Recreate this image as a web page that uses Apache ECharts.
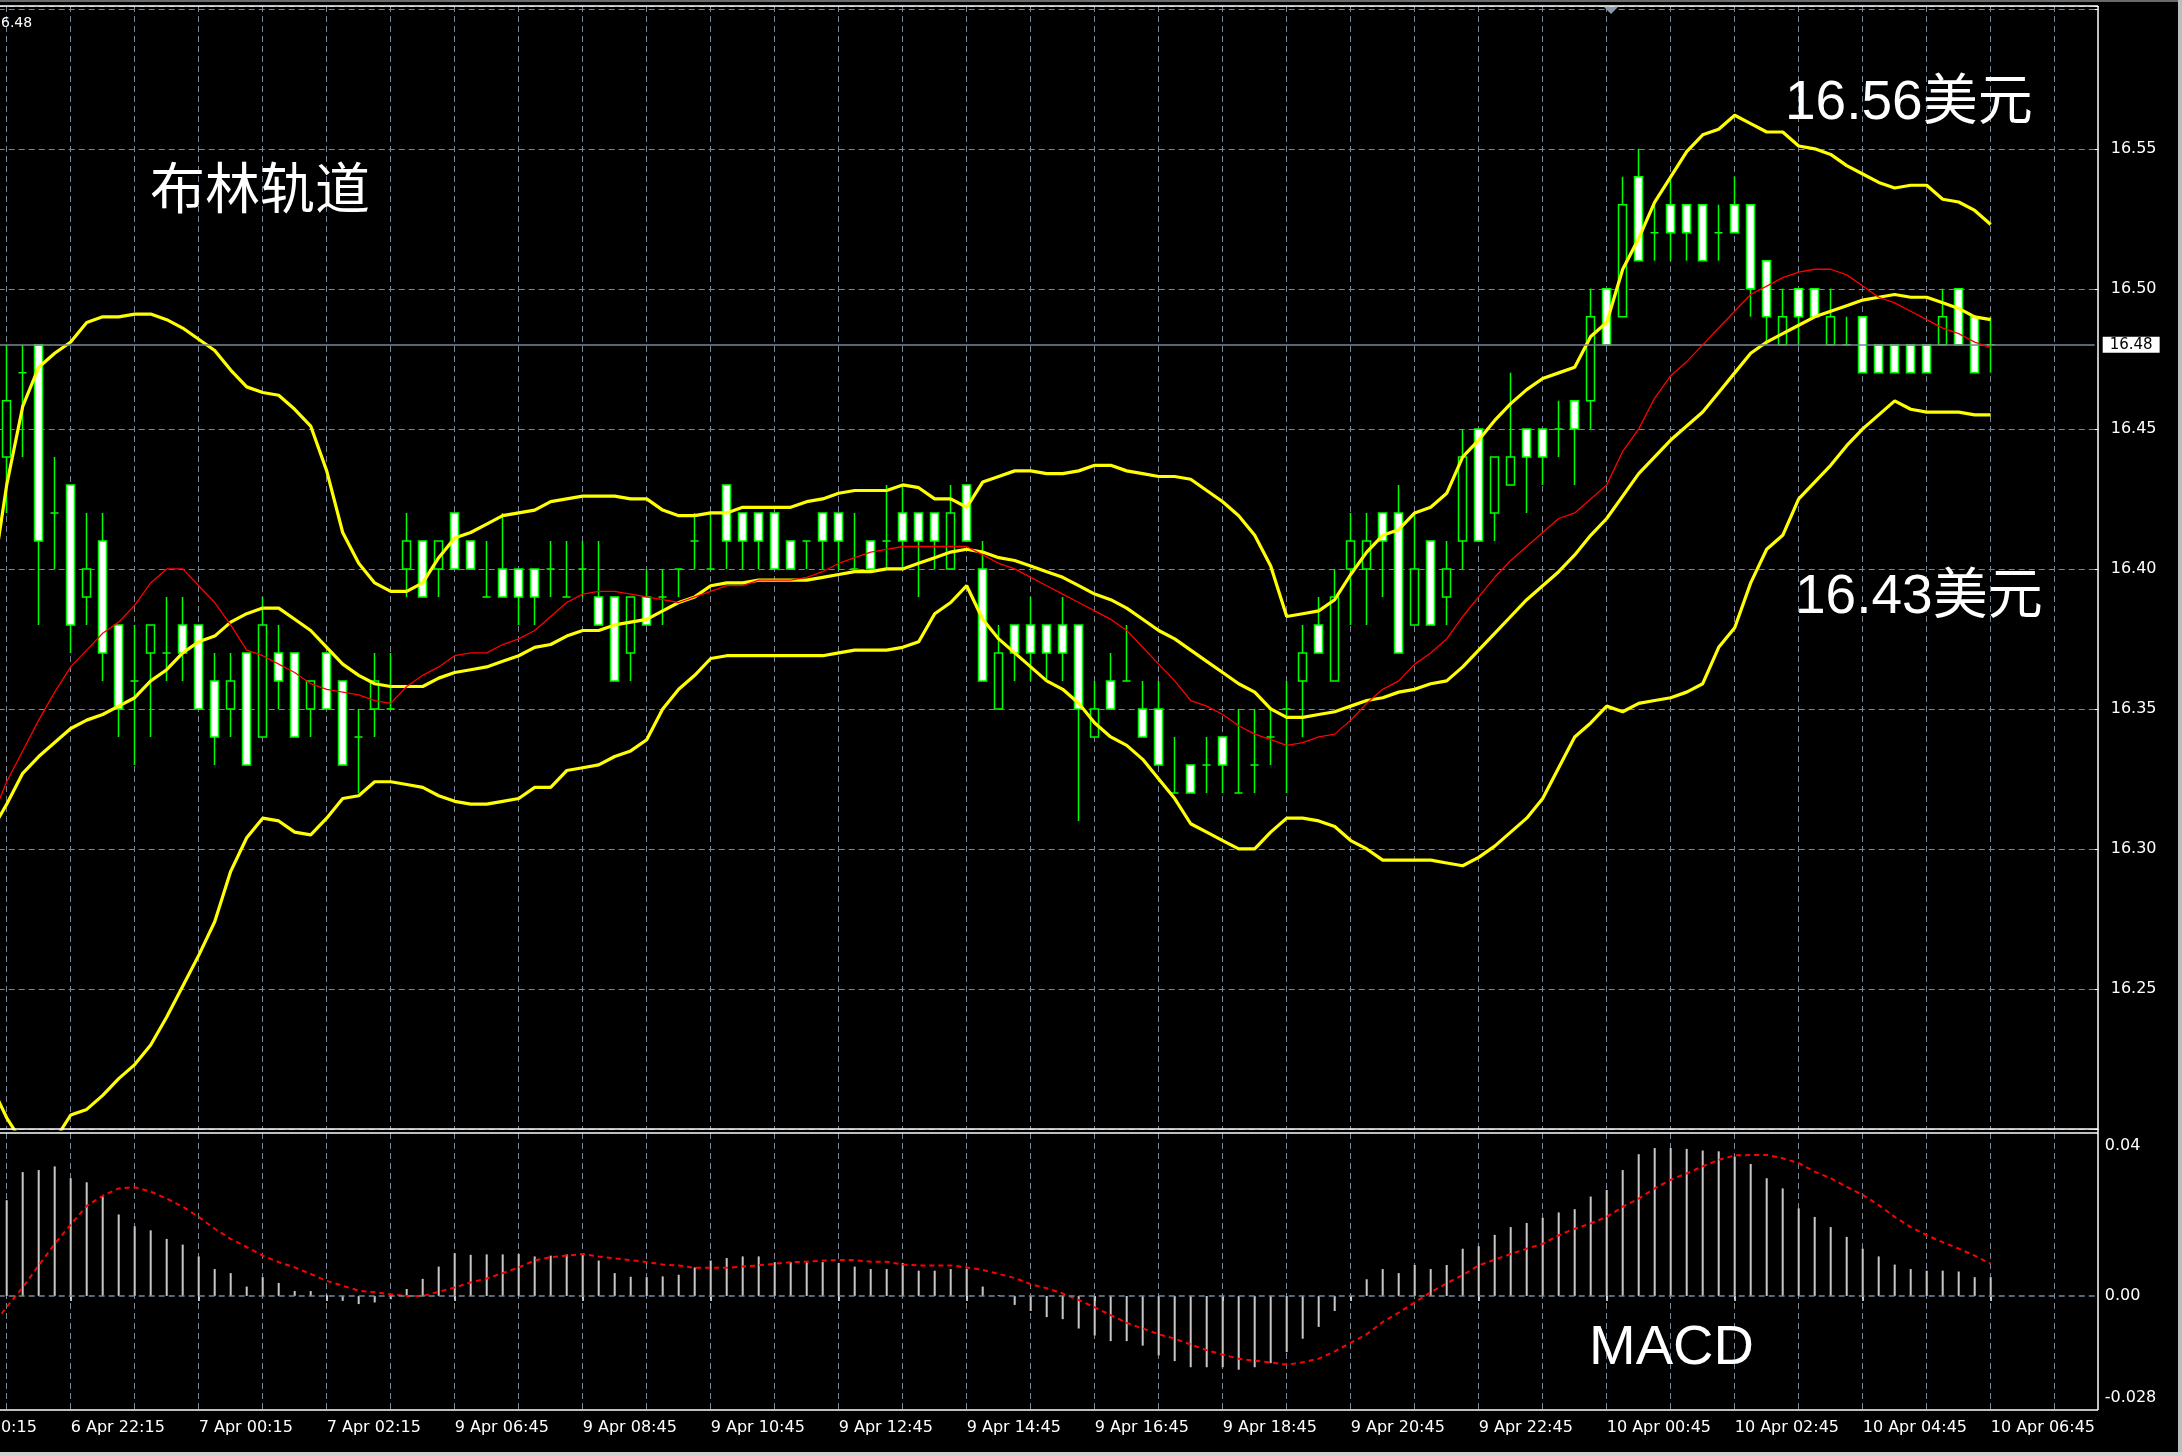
<!DOCTYPE html>
<html><head><meta charset="utf-8">
<script src="https://cdn.jsdelivr.net/npm/echarts@6/dist/echarts.min.js"></script>
<style>html,body{margin:0;padding:0;background:#000;}#c{width:2182px;height:1456px;}</style>
</head><body><div id="c"></div>
<script>
// ---------------- DATA ----------------
// Bars are 15-minute candles, j = -1 .. 124 (j=-1 only partly visible at the left edge)
const segStartA = {day: 6, hour: 20, minute: 0};   // category j = -5
const segStartB = {day: 9, hour: 6, minute: 45};   // category j = 28
const tickLabelsShown = ['6 Apr 20:15','6 Apr 22:15','7 Apr 00:15','7 Apr 02:15','9 Apr 06:45','9 Apr 08:45','9 Apr 10:45','9 Apr 12:45','9 Apr 14:45','9 Apr 16:45','9 Apr 18:45','9 Apr 20:45','9 Apr 22:45','10 Apr 00:45','10 Apr 02:45','10 Apr 04:45','10 Apr 06:45'];
const priceTicks = [16.25, 16.30, 16.35, 16.40, 16.45, 16.50, 16.55];
const macdTicks = [0.04, 0, -0.028];
const lastPrice = 16.48;

const openP = [null,
16.44,16.47,16.48,16.42,16.43,16.39,16.41,16.38,16.36,16.37,
16.37,16.38,16.38,16.36,16.35,16.37,16.34,16.37,16.37,16.35,
16.37,16.36,16.34,16.35,16.35,16.40,16.41,16.40,16.42,16.41,
16.39,16.40,16.40,16.40,16.40,16.39,16.40,16.39,16.39,16.37,
16.39,16.39,16.40,16.41,16.40,16.43,16.42,16.42,16.42,16.41,
16.41,16.42,16.42,16.40,16.41,16.41,16.42,16.42,16.42,16.40,
16.43,16.40,16.35,16.38,16.38,16.38,16.38,16.38,16.34,16.36,
16.36,16.35,16.35,16.32,16.33,16.33,16.34,16.32,16.33,16.34,
16.35,16.36,16.38,16.36,16.40,16.40,16.42,16.42,16.38,16.41,
16.39,16.41,16.45,16.42,16.43,16.45,16.45,16.45,16.46,16.46,
16.50,16.49,16.54,16.52,16.53,16.53,16.53,16.52,16.53,16.53,
16.51,16.48,16.50,16.50,16.48,16.48,16.49,16.48,16.48,16.48,
16.48,16.48,16.50,16.49,16.48];
const closeP = [null,
16.46,16.47,16.41,16.42,16.38,16.40,16.37,16.35,16.36,16.38,
16.37,16.37,16.35,16.34,16.36,16.33,16.38,16.36,16.34,16.36,
16.35,16.33,16.34,16.36,16.35,16.41,16.39,16.41,16.40,16.40,
16.39,16.39,16.39,16.39,16.40,16.39,16.40,16.38,16.36,16.39,
16.38,16.39,16.40,16.41,16.40,16.41,16.41,16.41,16.40,16.40,
16.41,16.41,16.41,16.40,16.40,16.41,16.41,16.41,16.41,16.42,
16.41,16.36,16.37,16.37,16.37,16.37,16.37,16.35,16.35,16.35,
16.36,16.34,16.33,16.32,16.32,16.33,16.33,16.32,16.33,16.34,
16.35,16.37,16.37,16.39,16.41,16.41,16.41,16.37,16.40,16.38,
16.40,16.44,16.41,16.44,16.44,16.44,16.44,16.45,16.45,16.49,
16.48,16.53,16.51,16.52,16.52,16.52,16.51,16.52,16.52,16.50,
16.49,16.49,16.49,16.49,16.49,16.48,16.47,16.47,16.47,16.47,
16.47,16.49,16.48,16.47,16.48];
const lowP = [null,
16.42,16.44,16.38,16.40,16.37,16.38,16.36,16.34,16.33,16.34,
16.36,16.36,16.35,16.33,16.34,16.33,16.34,16.35,16.34,16.34,
16.35,16.33,16.32,16.34,16.35,16.39,16.39,16.39,16.40,16.40,
16.39,16.39,16.38,16.38,16.39,16.39,16.39,16.38,16.36,16.36,
16.38,16.38,16.39,16.40,16.40,16.40,16.40,16.40,16.40,16.40,
16.40,16.40,16.40,16.40,16.40,16.40,16.40,16.39,16.40,16.40,
16.41,16.36,16.35,16.36,16.36,16.36,16.36,16.31,16.34,16.35,
16.36,16.34,16.33,16.32,16.32,16.32,16.32,16.32,16.32,16.33,
16.32,16.34,16.37,16.36,16.38,16.38,16.39,16.37,16.38,16.38,
16.38,16.40,16.41,16.41,16.43,16.42,16.43,16.44,16.43,16.45,
16.48,16.49,16.51,16.51,16.51,16.51,16.51,16.51,16.52,16.49,
16.48,16.48,16.48,16.49,16.48,16.48,16.47,16.47,16.47,16.47,
16.47,16.48,16.48,16.47,16.47];
const highP = [null,
16.48,16.48,16.48,16.44,16.43,16.42,16.42,16.38,16.38,16.38,
16.39,16.39,16.38,16.37,16.37,16.37,16.39,16.38,16.37,16.36,
16.37,16.36,16.35,16.37,16.37,16.42,16.41,16.41,16.42,16.41,
16.41,16.42,16.40,16.40,16.41,16.41,16.41,16.41,16.39,16.39,
16.40,16.40,16.40,16.42,16.42,16.43,16.42,16.42,16.42,16.41,
16.41,16.42,16.42,16.42,16.41,16.43,16.43,16.42,16.42,16.43,
16.43,16.41,16.38,16.38,16.39,16.38,16.39,16.38,16.36,16.37,
16.38,16.36,16.36,16.34,16.33,16.34,16.34,16.35,16.35,16.35,
16.36,16.38,16.39,16.40,16.42,16.42,16.42,16.43,16.42,16.41,
16.41,16.45,16.45,16.44,16.47,16.45,16.45,16.46,16.46,16.50,
16.50,16.54,16.55,16.53,16.54,16.53,16.53,16.53,16.54,16.53,
16.51,16.50,16.50,16.50,16.50,16.49,16.49,16.48,16.48,16.48,
16.48,16.50,16.50,16.49,16.49];

const bbUpper = [16.392,
16.430,16.458,16.472,16.477,16.481,16.488,16.490,16.490,16.491,16.491,
16.489,16.486,16.482,16.478,16.471,16.465,16.463,16.462,16.457,16.451,
16.435,16.413,16.402,16.395,16.392,16.392,16.395,16.404,16.411,16.413,
16.416,16.419,16.420,16.421,16.424,16.425,16.426,16.426,16.426,16.425,
16.425,16.421,16.419,16.419,16.420,16.420,16.422,16.422,16.422,16.422,
16.424,16.425,16.427,16.428,16.428,16.428,16.430,16.429,16.425,16.425,
16.422,16.431,16.433,16.435,16.435,16.434,16.434,16.435,16.437,16.437,
16.435,16.434,16.433,16.433,16.432,16.428,16.424,16.419,16.412,16.401,
16.383,16.384,16.385,16.389,16.398,16.406,16.412,16.414,16.420,16.422,
16.427,16.440,16.446,16.453,16.459,16.464,16.468,16.470,16.472,16.483,
16.488,16.507,16.518,16.531,16.540,16.549,16.555,16.557,16.562,16.559,
16.556,16.556,16.551,16.550,16.548,16.544,16.541,16.538,16.536,16.537,
16.537,16.532,16.531,16.528,16.523];
const bbMiddle = [16.306,
16.316,16.327,16.333,16.338,16.343,16.346,16.348,16.351,16.354,16.360,
16.364,16.370,16.374,16.376,16.381,16.384,16.386,16.386,16.382,16.378,
16.372,16.366,16.362,16.359,16.358,16.358,16.358,16.361,16.363,16.364,
16.365,16.367,16.369,16.372,16.373,16.376,16.378,16.378,16.380,16.381,
16.382,16.385,16.388,16.390,16.394,16.395,16.395,16.396,16.396,16.396,
16.396,16.397,16.398,16.399,16.399,16.400,16.400,16.402,16.404,16.406,
16.407,16.406,16.404,16.403,16.401,16.399,16.397,16.394,16.391,16.389,
16.386,16.382,16.378,16.375,16.371,16.367,16.363,16.359,16.356,16.350,
16.347,16.347,16.348,16.349,16.351,16.353,16.354,16.356,16.357,16.359,
16.360,16.365,16.371,16.377,16.383,16.389,16.394,16.399,16.405,16.412,
16.418,16.426,16.434,16.440,16.446,16.451,16.456,16.463,16.470,16.477,
16.481,16.484,16.487,16.490,16.492,16.494,16.496,16.497,16.498,16.497,
16.497,16.495,16.493,16.490,16.489];
const bbLower = [16.216,
16.204,16.195,16.192,16.196,16.205,16.207,16.212,16.218,16.223,16.230,
16.240,16.251,16.262,16.274,16.292,16.304,16.311,16.310,16.306,16.305,
16.311,16.318,16.319,16.324,16.324,16.323,16.322,16.319,16.317,16.316,
16.316,16.317,16.318,16.322,16.322,16.328,16.329,16.330,16.333,16.335,
16.339,16.350,16.357,16.362,16.368,16.369,16.369,16.369,16.369,16.369,
16.369,16.369,16.370,16.371,16.371,16.371,16.372,16.374,16.384,16.388,
16.394,16.382,16.375,16.370,16.365,16.360,16.357,16.352,16.345,16.340,
16.337,16.332,16.325,16.318,16.309,16.306,16.303,16.300,16.300,16.306,
16.311,16.311,16.310,16.308,16.303,16.300,16.296,16.296,16.296,16.296,
16.295,16.294,16.297,16.301,16.306,16.311,16.318,16.329,16.340,16.345,
16.351,16.349,16.352,16.353,16.354,16.356,16.359,16.372,16.379,16.395,
16.407,16.412,16.425,16.431,16.437,16.444,16.450,16.455,16.460,16.457,
16.456,16.456,16.456,16.455,16.455];
const maRed = [16.310,
16.324,16.335,16.346,16.356,16.365,16.371,16.377,16.381,16.387,16.395,
16.400,16.400,16.394,16.388,16.380,16.371,16.369,16.366,16.363,16.359,
16.357,16.356,16.355,16.353,16.352,16.358,16.362,16.365,16.369,16.370,
16.370,16.373,16.375,16.378,16.383,16.388,16.391,16.392,16.392,16.391,
16.390,16.389,16.388,16.390,16.392,16.394,16.394,16.396,16.396,16.396,
16.397,16.399,16.402,16.404,16.406,16.407,16.408,16.408,16.408,16.408,
16.408,16.405,16.402,16.400,16.397,16.394,16.391,16.388,16.385,16.382,
16.378,16.372,16.366,16.360,16.353,16.351,16.348,16.344,16.341,16.339,
16.337,16.338,16.340,16.341,16.346,16.352,16.357,16.360,16.366,16.370,
16.375,16.383,16.390,16.397,16.403,16.408,16.413,16.418,16.420,16.425,
16.430,16.442,16.450,16.461,16.469,16.474,16.480,16.486,16.492,16.498,
16.501,16.504,16.506,16.507,16.507,16.505,16.501,16.497,16.495,16.492,
16.489,16.486,16.484,16.481,16.479];

const macdHist = [null,
0.0235,0.0304,0.0309,0.0318,0.0289,0.0279,0.0244,0.0200,0.0171,0.0161,
0.0140,0.0126,0.0097,0.0066,0.0056,0.0023,0.0046,0.0032,0.0012,0.0012,
0.0003,-0.0012,-0.0020,-0.0016,-0.0008,0.0017,0.0042,0.0072,0.0105,0.0101,
0.0102,0.0102,0.0103,0.0097,0.0099,0.0102,0.0105,0.0087,0.0056,0.0047,
0.0046,0.0048,0.0052,0.0070,0.0087,0.0093,0.0097,0.0097,0.0083,0.0083,
0.0083,0.0083,0.0081,0.0072,0.0066,0.0066,0.0081,0.0062,0.0062,0.0066,
0.0066,0.0023,0.0002,-0.0022,-0.0037,-0.0052,-0.0057,-0.0080,-0.0097,-0.0111,
-0.0111,-0.0122,-0.0146,-0.0160,-0.0175,-0.0175,-0.0175,-0.0181,-0.0175,-0.0165,
-0.0138,-0.0105,-0.0076,-0.0037,0.0000,0.0041,0.0066,0.0056,0.0076,0.0066,
0.0076,0.0116,0.0122,0.0150,0.0169,0.0179,0.0192,0.0205,0.0213,0.0244,
0.0260,0.0309,0.0348,0.0363,0.0363,0.0361,0.0357,0.0355,0.0342,0.0324,
0.0289,0.0264,0.0215,0.0194,0.0169,0.0145,0.0116,0.0097,0.0077,0.0066,
0.0062,0.0062,0.0060,0.0046,0.0046];
const macdSignal = [-0.0079,
-0.0027,0.0021,0.0075,0.0128,0.0175,0.0221,0.0246,0.0264,0.0267,0.0256,
0.0239,0.0219,0.0194,0.0165,0.0140,0.0120,0.0099,0.0083,0.0070,0.0054,
0.0037,0.0025,0.0013,0.0009,0.0004,0.0000,0.0000,0.0010,0.0021,0.0033,
0.0043,0.0056,0.0070,0.0087,0.0095,0.0099,0.0103,0.0097,0.0092,0.0088,
0.0083,0.0077,0.0075,0.0069,0.0069,0.0069,0.0072,0.0075,0.0079,0.0083,
0.0084,0.0087,0.0088,0.0088,0.0084,0.0084,0.0077,0.0075,0.0075,0.0075,
0.0070,0.0064,0.0054,0.0044,0.0029,0.0019,0.0006,-0.0010,-0.0028,-0.0047,
-0.0066,-0.0080,-0.0094,-0.0105,-0.0119,-0.0133,-0.0144,-0.0154,-0.0159,-0.0163,
-0.0169,-0.0163,-0.0154,-0.0136,-0.0115,-0.0094,-0.0064,-0.0041,-0.0016,0.0009,
0.0031,0.0051,0.0075,0.0089,0.0103,0.0116,0.0128,0.0149,0.0165,0.0178,
0.0194,0.0219,0.0239,0.0264,0.0285,0.0301,0.0318,0.0334,0.0345,0.0346,
0.0346,0.0338,0.0326,0.0305,0.0289,0.0268,0.0248,0.0223,0.0194,0.0169,
0.0149,0.0132,0.0116,0.0099,0.0079];

// ---------------- CATEGORIES ----------------
function fmtTime(d) {
  const hh = String(d.getUTCHours()).padStart(2, '0');
  const mm = String(d.getUTCMinutes()).padStart(2, '0');
  return d.getUTCDate() + ' Apr ' + hh + ':' + mm;
}
function buildCategories() {
  const out = [];
  let t = Date.UTC(2023, 3, segStartA.day, segStartA.hour, segStartA.minute);
  for (let j = -5; j <= 27; j++) { out.push(fmtTime(new Date(t))); t += 900000; }
  t = Date.UTC(2023, 3, segStartB.day, segStartB.hour, segStartB.minute);
  for (let j = 28; j <= 130; j++) { out.push(fmtTime(new Date(t))); t += 900000; }
  return out;
}
const categories = buildCategories();
const LEAD = 4; // empty categories (j=-5..-2) before the first data point (j=-1)
const pad = arr => new Array(LEAD).fill('-').concat(arr.map(v => v == null ? '-' : v));

const candleData = new Array(LEAD).fill(['-', '-', '-', '-']).concat(
  openP.map((o, k) => o == null ? ['-', '-', '-', '-'] : [o, closeP[k], lowP[k], highP[k]]));

// ---------------- LAYOUT ----------------
const BAR = 16;
const NCAT = categories.length;            // 136
const GRID_LEFT = 6.7 - 8 - 5 * BAR;       // first category centre at j=-5
const GRID_W = NCAT * BAR;
const GREEN = '#00ff00', GRIDC = '#778899';
const FONT = 'DejaVu Sans';

const labelIdx = (i) => !!categories[i] && tickLabelsShown.indexOf(categories[i]) >= 0;
const splitIdx = (i) => i % 4 === 1;

const chart = echarts.init(document.getElementById('c'), null, {renderer: 'canvas', width: 2182, height: 1456});

const option = {
  backgroundColor: '#000',
  animation: false,
  grid: [
    {left: GRID_LEFT, width: GRID_W, top: 6, height: 1123, show: false, outerBoundsMode: 'none', containLabel: false},
    {left: GRID_LEFT, width: GRID_W, top: 1133, height: 277, show: false, outerBoundsMode: 'none', containLabel: false}
  ],
  xAxis: [
    {type: 'category', gridIndex: 0, data: categories, boundaryGap: true,
     axisLine: {show: false}, axisTick: {show: false}, axisLabel: {show: false},
     splitLine: {show: true, interval: splitIdx, alignWithLabel: true, lineStyle: {color: GRIDC, type: [6, 4], width: 1}}},
    {type: 'category', gridIndex: 1, data: categories, boundaryGap: true, position: 'bottom',
     axisLine: {show: false},
     axisTick: {show: true, interval: labelIdx, alignWithLabel: true, length: 5, lineStyle: {color: '#fff', width: 1.5}},
     axisLabel: {show: true, interval: labelIdx, align: 'left', margin: 10, color: '#fff', fontFamily: FONT, fontSize: 16},
     splitLine: {show: true, interval: splitIdx, alignWithLabel: true, lineStyle: {color: GRIDC, type: [6, 4], width: 1}}}
  ],
  yAxis: [
    {type: 'value', gridIndex: 0, position: 'right', min: 16.2, max: 16.601, interval: 0.05,
     axisLine: {show: false},
     axisTick: {show: true, length: 4, lineStyle: {color: '#fff'}},
     axisLabel: {margin: 16, color: '#fff', fontFamily: FONT, fontSize: 16,
       formatter: v => priceTicks.some(p => Math.abs(p - v) < 1e-6) ? v.toFixed(2) : ''},
     splitLine: {show: true, lineStyle: {color: GRIDC, type: [6, 4], width: 1}}},
    {type: 'value', gridIndex: 1, position: 'right', min: -0.028, max: 0.04, interval: 0.004,
     axisLine: {show: false},
     axisTick: {show: false},
     axisLabel: {margin: 10, color: '#fff', fontFamily: FONT, fontSize: 16,
       formatter: v => Math.abs(v - macdTicks[0]) < 1e-7 ? '{t|0.04}' : (Math.abs(v - macdTicks[2]) < 1e-7 ? '{b|-0.028}' : (Math.abs(v) < 1e-7 ? '0.00' : '')),
       rich: {t: {padding: [26, 0, 0, 0], color: '#fff', fontFamily: FONT, fontSize: 16},
              b: {padding: [0, 0, 24, 0], color: '#fff', fontFamily: FONT, fontSize: 16}}},
     splitLine: {show: false}}
  ],
  series: [
    {type: 'candlestick', name: 'XAGUSD', xAxisIndex: 0, yAxisIndex: 0, data: candleData,
     barWidth: 9, z: 2, silent: true, clip: true,
     itemStyle: {color: '#000', color0: '#fff', borderColor: GREEN, borderColor0: GREEN, borderColorDoji: GREEN, borderWidth: 1.5},
     markLine: {silent: true, symbol: ['none', 'none'], animation: false,
       lineStyle: {color: GRIDC, type: 'solid', width: 1.5},
       label: {show: true, position: 'end', distance: 8, formatter: lastPrice.toFixed(2),
               backgroundColor: '#fff', color: '#000', padding: [1, 7, 0, 7], fontFamily: FONT, fontSize: 15},
       data: [{yAxis: lastPrice}]}},
    {type: 'line', name: 'BB upper', xAxisIndex: 0, yAxisIndex: 0, data: pad(bbUpper), showSymbol: false, z: 4, silent: true,
     lineStyle: {color: '#ffff00', width: 3.2}},
    {type: 'line', name: 'BB middle', xAxisIndex: 0, yAxisIndex: 0, data: pad(bbMiddle), showSymbol: false, z: 4, silent: true,
     lineStyle: {color: '#ffff00', width: 3.2}},
    {type: 'line', name: 'BB lower', xAxisIndex: 0, yAxisIndex: 0, data: pad(bbLower), showSymbol: false, z: 4, silent: true,
     lineStyle: {color: '#ffff00', width: 3.2}},
    {type: 'line', name: 'MA', xAxisIndex: 0, yAxisIndex: 0, data: pad(maRed), showSymbol: false, z: 5, silent: true,
     lineStyle: {color: '#ff0000', width: 1.3}},
    {type: 'bar', name: 'MACD', xAxisIndex: 1, yAxisIndex: 1, data: pad(macdHist), barWidth: 2, z: 2, silent: true,
     itemStyle: {color: '#c8c8c8'},
     markLine: {silent: true, symbol: ['none', 'none'], label: {show: false},
       lineStyle: {color: GRIDC, type: [6, 4], width: 1.5}, data: [{yAxis: 0}]}},
    {type: 'line', name: 'Signal', xAxisIndex: 1, yAxisIndex: 1, data: pad(macdSignal), showSymbol: false, z: 4, silent: true,
     lineStyle: {color: '#ff0000', width: 2, type: [5, 4]}}
  ],
  graphic: [
    {type: 'rect', z: 50, shape: {x: 0, y: 0, width: 2182, height: 2}, style: {fill: '#6a6a6a'}},
    {type: 'line', z: 50, shape: {x1: 0, y1: 6, x2: 2098, y2: 6}, style: {stroke: '#fff', lineWidth: 1.5}},
    {type: 'line', z: 50, shape: {x1: 0, y1: 1129, x2: 2098, y2: 1129}, style: {stroke: '#fff', lineWidth: 1.5}},
    {type: 'line', z: 50, shape: {x1: 0, y1: 1133, x2: 2098, y2: 1133}, style: {stroke: '#fff', lineWidth: 1.5}},
    {type: 'line', z: 50, shape: {x1: 0, y1: 1410, x2: 2098, y2: 1410}, style: {stroke: '#fff', lineWidth: 1.5}},
    {type: 'line', z: 50, shape: {x1: 2098, y1: 6, x2: 2098, y2: 1410}, style: {stroke: '#fff', lineWidth: 1.5}},
    {type: 'rect', z: 50, shape: {x: 2178, y: 0, width: 4, height: 1456}, style: {fill: '#bdbdbd'}},
    {type: 'rect', z: 50, shape: {x: 0, y: 1452, width: 2182, height: 4}, style: {fill: '#d0d0d0'}},
    {type: 'polygon', z: 50, shape: {points: [[1604, 7], [1618, 7], [1611, 14]]}, style: {fill: '#8a9aaa'}},
    {type: 'text', z: 60, x: 1, y: 23, style: {text: '6.48', fill: '#fff', font: '14px "DejaVu Sans"', verticalAlign: 'middle'}},
    {type: 'text', z: 60, x: 150, y: 187, style: {text: '布林轨道', fill: '#fff', font: '55px "Noto Sans CJK SC"', verticalAlign: 'middle'}},
    {type: 'text', z: 60, x: 1785, y: 104, style: {text: '16.56美元', fill: '#fff', font: '55px "Liberation Sans", "Noto Sans CJK SC"', verticalAlign: 'middle'}},
    {type: 'text', z: 60, x: 1795, y: 598, style: {text: '16.43美元', fill: '#fff', font: '55px "Liberation Sans", "Noto Sans CJK SC"', verticalAlign: 'middle'}},
    {type: 'text', z: 60, x: 1589, y: 1349, style: {text: 'MACD', fill: '#fff', font: '56px "Liberation Sans"', verticalAlign: 'middle'}}
  ]
};
chart.setOption(option);
</script></body></html>
